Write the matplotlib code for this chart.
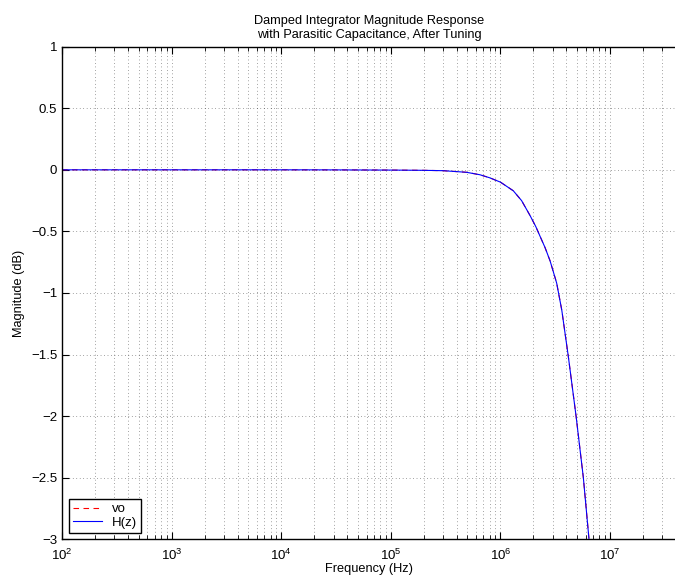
import numpy as np
import matplotlib
matplotlib.use('Agg')
import matplotlib.pyplot as plt
from matplotlib.ticker import LogLocator, NullFormatter, MultipleLocator, FuncFormatter

plt.rcParams['font.family'] = ['Liberation Sans', 'DejaVu Sans']
plt.rcParams['font.size'] = 9.2

# values
freq = [1e2, 1e3, 1e4, 3e4, 1e5, 2e5, 3e5, 4.9e5, 6.5e5, 8e5, 1.0e6, 1.31e6, 1.56e6,
        1.86e6, 2.1e6, 2.3e6, 2.55e6, 2.84e6, 3.26e6, 3.63e6, 4.17e6, 4.9e6, 5.71e6,
        6.43e6, 6.7e6]
mag_vo = [0, 0, 0, -0.0005, -0.002, -0.004, -0.007, -0.02, -0.04, -0.065, -0.10, -0.17,
          -0.25, -0.37, -0.46, -0.54, -0.63, -0.74, -0.92, -1.14, -1.52, -2.0, -2.5,
          -3.0, -3.2]
mag_hz = [0, 0, 0, -0.0005, -0.002, -0.004, -0.007, -0.02, -0.04, -0.065, -0.10, -0.17,
          -0.25, -0.37, -0.46, -0.54, -0.63, -0.74, -0.92, -1.14, -1.52, -2.0, -2.5,
          -3.0, -3.2]

fig = plt.figure(figsize=(6.75, 5.82), dpi=100)
ax = fig.add_axes([0.0919, 0.0734, 0.9096, 0.8464])

ax.semilogx(freq, mag_vo, 'r--', lw=0.8, dashes=(5, 4), label='vo')
ax.semilogx(freq, mag_hz, 'b-', lw=0.8, label='H(z)')

ax.set_xlim(1e2, 4e7)
ax.set_ylim(-3, 1)
ax.yaxis.set_major_locator(MultipleLocator(0.5))
ax.yaxis.set_major_formatter(
    FuncFormatter(lambda v, p: ('%g' % v).replace('-', '\u2212') if abs(v) > 1e-9 else '0'))
ax.xaxis.set_major_locator(LogLocator(base=10, numticks=20))
ax.xaxis.set_minor_locator(LogLocator(base=10, subs=np.arange(2, 10), numticks=20))
ax.xaxis.set_minor_formatter(NullFormatter())

ax.grid(True, which='both', axis='x', color='k', ls=(0, (1, 4)), lw=0.5, alpha=0.7)
ax.grid(True, which='major', axis='y', color='k', ls=(0, (1, 4)), lw=0.5, alpha=0.7)

ax.spines['right'].set_visible(False)
ax.tick_params(which='both', direction='in', top=True, right=False, labelsize=9.5)
ax.tick_params(which='major', length=5, width=0.8)
ax.tick_params(which='minor', length=3, width=0.6)
ax.tick_params(axis='x', which='major', pad=6)
for s in ax.spines.values():
    s.set_linewidth(1.0)

ax.set_xlabel('Frequency (Hz)', labelpad=0)
ax.set_ylabel('Magnitude (dB)', labelpad=4)
ax.set_title('Damped Integrator Magnitude Response\nwith Parasitic Capacitance, After Tuning',
             fontsize=9.2, pad=6, linespacing=1.3)

leg = ax.legend(loc='lower left', fancybox=False, framealpha=1, edgecolor='k',
                handlelength=2.2, handletextpad=0.8, borderpad=0.3, labelspacing=0.1,
                borderaxespad=0.5, fontsize=9.5)
leg.get_frame().set_linewidth(1.0)

fig.savefig('out.png', dpi=100)
